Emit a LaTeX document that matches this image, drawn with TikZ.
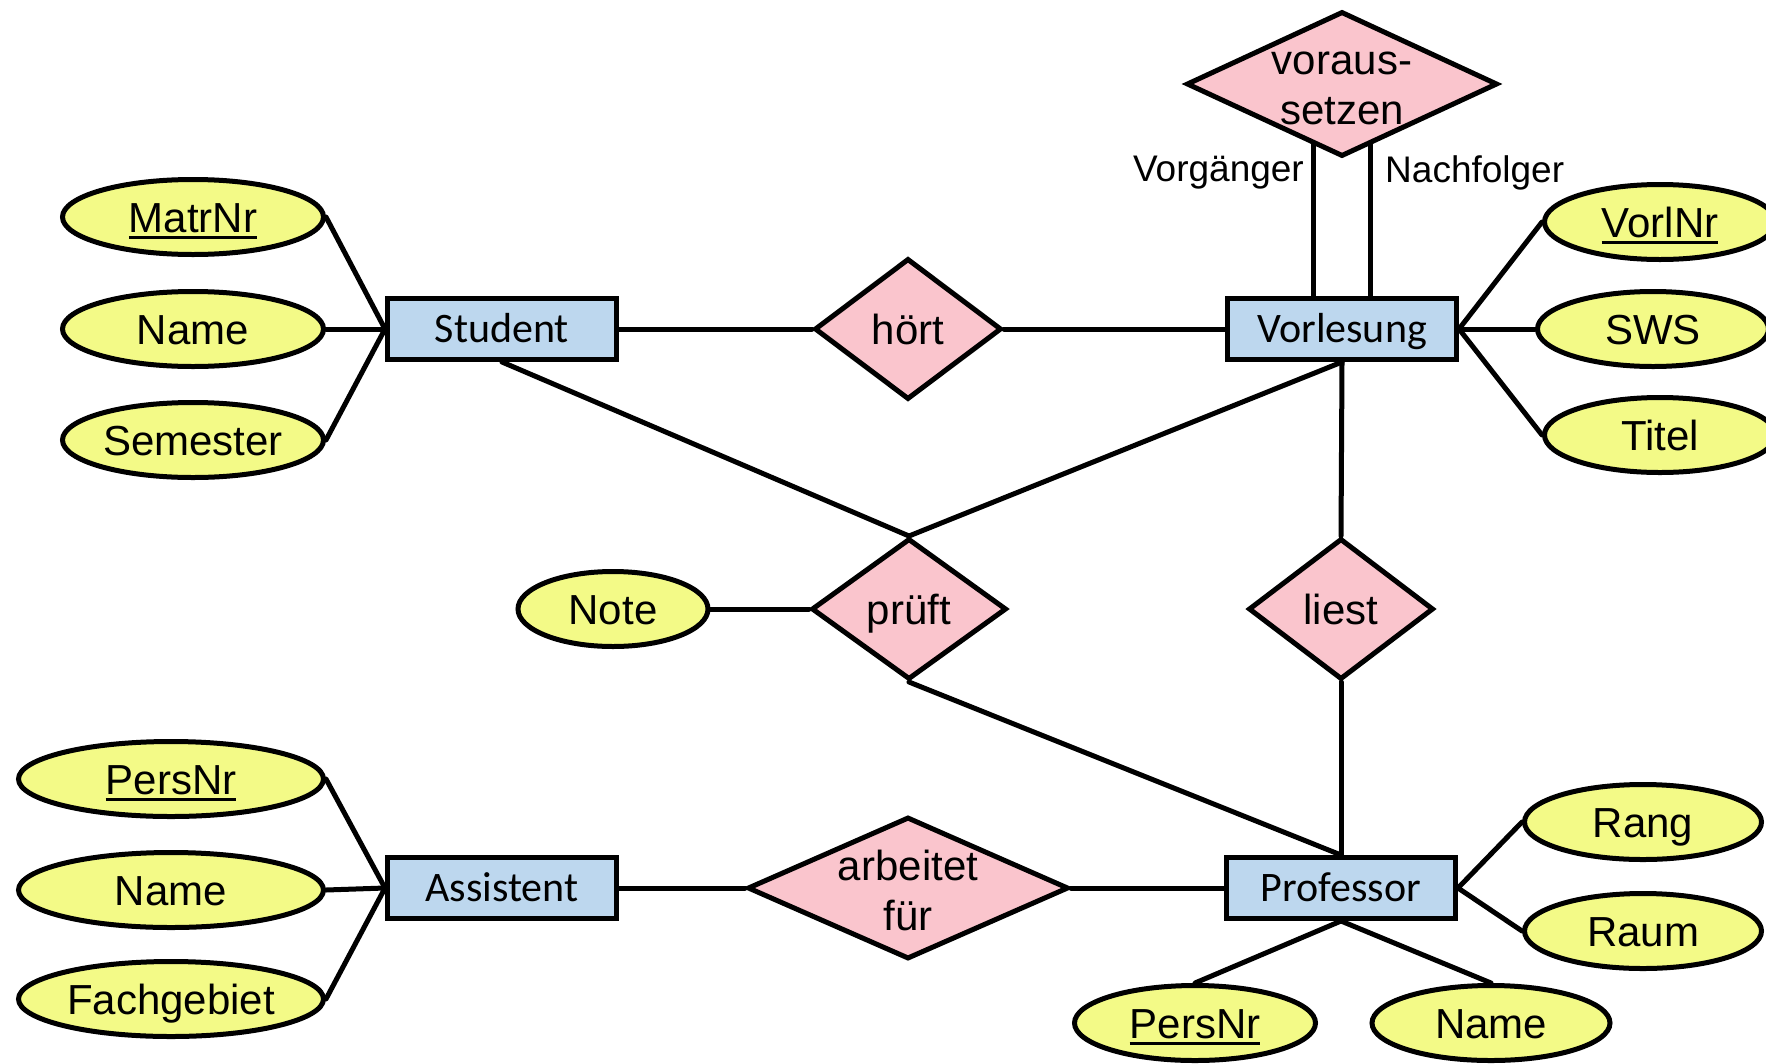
\documentclass[tikz,border=0pt]{standalone}
\usepackage{fontspec}
\setmainfont{Liberation Sans}
\newfontfamily\entfont{Carlito}
\usetikzlibrary{shapes.geometric,backgrounds}
\definecolor{entblue}{RGB}{189,215,238}
\definecolor{relpink}{RGB}{250,197,205}
\definecolor{attryellow}{RGB}{243,250,135}
\newcommand\keyul[1]{\setbox0=\hbox{#1}\rlap{\rule[-7pt]{\wd0}{3pt}}\box0}
\begin{document}
\begin{tikzpicture}[x=1pt,y=-1pt,
  entity/.style={rectangle, draw, line width=5pt, fill=entblue, minimum width=229pt, minimum height=61pt, inner sep=0pt, text height=27pt, text depth=0pt, font=\entfont\fontsize{42}{50}\selectfont},
  attr/.style={ellipse, draw, line width=5pt, fill=attryellow, minimum height=75pt, inner sep=0pt, text height=30pt, text depth=0pt, font=\fontsize{42}{50}\selectfont},
  rel/.style={diamond, draw, line width=5pt, fill=relpink, inner sep=0pt},
  reltext/.style={font=\fontsize{42}{50}\selectfont, align=center, inner sep=0pt},
  role/.style={font=\fontsize{37}{44}\selectfont, inner sep=0pt},
  link/.style={line width=5pt, line cap=round}]
\useasboundingbox (0,0) rectangle (1766,1063);

% entities
\node[entity] (st) at (502,329) {Student};
\node[entity] (vl) at (1342,329) {Vorlesung};
\node[entity] (as) at (502,888) {Assistent};
\node[entity] (pf) at (1341,888) {Professor};

% relationships
\node[rel, minimum width=187pt, minimum height=141pt] (ho) at (908,329) {};
\node[reltext, text height=30pt, text depth=0pt] (hot) at (ho) {hört};
\node[rel, minimum width=195pt, minimum height=141pt] (pr) at (909,609) {};
\node[reltext, text height=30pt, text depth=0pt] (prt) at (pr) {prüft};
\node[rel, minimum width=185pt, minimum height=141pt] (li) at (1341,609) {};
\node[reltext, text height=30pt, text depth=0pt] (lit) at (li) {liest};
\node[rel, minimum width=321pt, minimum height=142pt] (af) at (908,888) {};
\node[reltext] (aft) at ([yshift=-2pt]af.center) {arbeitet\\für};
\node[rel, minimum width=311pt, minimum height=145pt] (vo) at (1342,84) {};
\node[reltext] (vot) at ([yshift=-4.5pt]vo.center) {voraus-\\setzen};

% attributes
\node[attr, minimum width=261pt] (matr) at (193,217) {\keyul{MatrNr}};
\node[attr, minimum width=261pt] (sname) at (193,329) {Name};
\node[attr, minimum width=261pt] (sem) at (193,440) {Semester};
\node[attr, minimum width=305pt] (apers) at (171,779) {\keyul{PersNr}};
\node[attr, minimum width=305pt] (aname) at (171,890) {Name};
\node[attr, minimum width=305pt] (fach) at (171,999) {Fachgebiet};
\node[attr, minimum width=190pt] (note) at (613,609) {Note};
\node[attr, minimum width=231pt] (vnr) at (1660,222) {\keyul{VorlNr}};
\node[attr, minimum width=231pt] (sws) at (1653,329) {SWS};
\node[attr, minimum width=231pt] (tit) at (1660,435) {Titel};
\node[attr, minimum width=237pt] (rang) at (1643,822) {Rang};
\node[attr, minimum width=237pt] (raum) at (1643,931) {Raum};
\node[attr, minimum width=241pt] (ppers) at (1195,1023) {\keyul{PersNr}};
\node[attr, minimum width=238pt] (pname) at (1491,1023) {Name};

% role labels
\node[role, anchor=east] (vg) at (1304,173) {Vorgänger};
\node[role, anchor=west] (nf) at (1385,173) {Nachfolger};

\begin{scope}[on background layer]
\draw[link] (matr.east) -- (st.west);
\draw[link] (sname.east) -- (st.west);
\draw[link] (sem.east) -- (st.west);
\draw[link] (apers.east) -- (as.west);
\draw[link] (aname.east) -- (as.west);
\draw[link] (fach.east) -- (as.west);
\draw[link] (st.east) -- (ho.west);
\draw[link] (ho.east) -- (vl.west);
\draw[link] (st.south) -- (pr.north);
\draw[link] (vl.south) -- (pr.north);
\draw[link] (vl.south) -- (li.north);
\draw[link] (note.east) -- (pr.west);
\draw[link] (pr.south) -- (pf.north);
\draw[link] (li.south) -- (pf.north);
\draw[link] (as.east) -- (af.west);
\draw[link] (af.east) -- (pf.west);
\draw[link] (vl.east) -- (vnr.west);
\draw[link] (vl.east) -- (sws.west);
\draw[link] (vl.east) -- (tit.west);
\draw[link] (pf.east) -- (rang.west);
\draw[link] (pf.east) -- (raum.west);
\draw[link] (pf.south) -- (ppers.north);
\draw[link] (pf.south) -- (pname.north);
\draw[link] ([xshift=-29pt]vl.north) -- ([xshift=-29pt]vo.center);
\draw[link] ([xshift=28pt]vl.north) -- ([xshift=28pt]vo.center);
\end{scope}
\end{tikzpicture}
\end{document}
